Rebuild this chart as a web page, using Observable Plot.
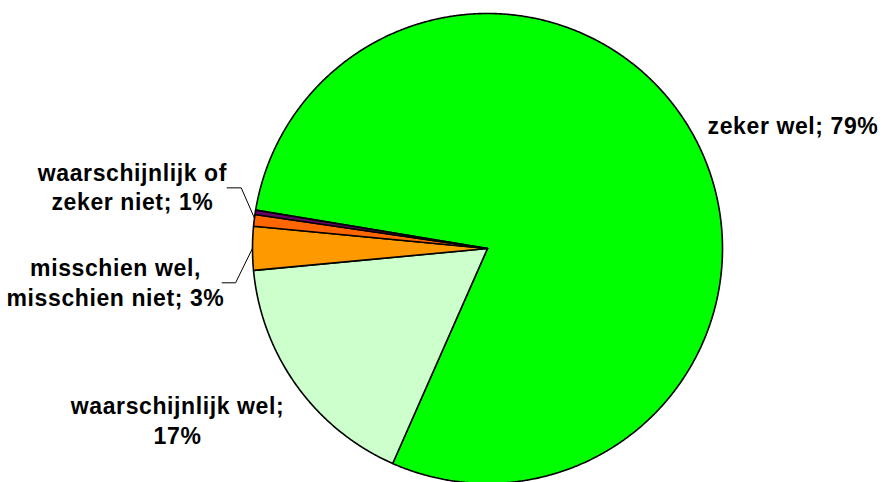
<!DOCTYPE html>
<html><head><meta charset="utf-8">
<script src="https://cdn.jsdelivr.net/npm/d3@7"></script>
<script src="https://cdn.jsdelivr.net/npm/@observablehq/plot@0.6"></script>
<style>body{margin:0;background:#fff} svg{display:block}</style>
</head><body><div id="chart"></div>
<script>
const categories = ["zeker wel", "waarschijnlijk wel", "misschien wel, misschien niet", "waarschijnlijk niet", "zeker niet"];
const values = [79.0, 16.9, 3.0, 0.8, 0.3];
const colors = ["#00FF00", "#CCFFCC", "#FF9900", "#FF6600", "#660066"];
const labelTexts = ["zeker wel; 79%", "waarschijnlijk wel;\n17%", "misschien wel,\nmisschien niet; 3%", "waarschijnlijk of\nzeker niet; 1%"];

const W = 885, H = 482, cx = 487, cy = 248, R = 235;
const startDeg = 279.4;
const pie = d3.pie().sort(null).value(d => d.value)
  .startAngle(startDeg * Math.PI / 180).endAngle((startDeg + 360) * Math.PI / 180);
const data = categories.map((name, i) => ({name, value: values[i]}));
const arcs = pie(data);
const pt = (a, r = 1) => ({x: r * Math.sin(a), y: r * Math.cos(a)});

const polys = [];
arcs.forEach(a => {
  const n = Math.max(2, Math.ceil((a.endAngle - a.startAngle) / 0.005));
  polys.push({name: a.data.name, x: 0, y: 0});
  for (let k = 0; k <= n; k++) {
    const t = a.startAngle + (a.endAngle - a.startAngle) * k / n;
    polys.push({name: a.data.name, ...pt(t)});
  }
  polys.push({name: a.data.name, x: 0, y: 0});
});

// leader lines (layout)
const midNiet = (arcs[3].startAngle + arcs[4].endAngle) / 2;
const midMis = (arcs[2].startAngle + arcs[2].endAngle) / 2;
const leaders = [
  {id: "niet", ...pt(midNiet)}, {id: "niet", x: -1.048, y: 0.258}, {id: "niet", x: -1.108, y: 0.258},
  {id: "mis", ...pt(midMis)}, {id: "mis", x: -1.072, y: -0.146}, {id: "mis", x: -1.129, y: -0.146}
];

const labels = [
  {text: labelTexts[0], x: 1.300, y: 0.488},
  {text: labelTexts[1], x: -1.319, y: -0.831},
  {text: labelTexts[2], x: -1.583, y: -0.243},
  {text: labelTexts[3], x: -1.511, y: 0.162}
];

const chart = Plot.plot({
  width: W, height: H, margin: 0,
  style: {background: "#fff", letterSpacing: "0.6px"},
  x: {domain: [-1, 1], range: [cx - R, cx + R], axis: null},
  y: {domain: [-1, 1], range: [cy + R, cy - R], axis: null},
  color: {domain: categories, range: colors},
  marks: [
    Plot.line(polys, {x: "x", y: "y", z: "name", fill: "name", stroke: "black", strokeWidth: 1.6, strokeLinejoin: "round"}),
    Plot.line(leaders, {x: "x", y: "y", z: "id", stroke: "black", strokeWidth: 1}),
    Plot.text(labels, {x: "x", y: "y", text: "text", fontSize: 23, fontWeight: "bold",
      fontFamily: "Liberation Sans, Arial, sans-serif", lineAnchor: "bottom", lineHeight: 1.29, fill: "black"})
  ]
});
document.getElementById("chart").appendChild(chart);
</script>
</body></html>
